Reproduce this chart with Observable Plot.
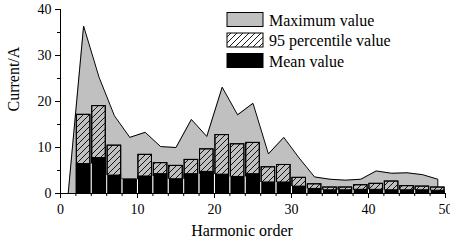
<!DOCTYPE html>
<html>
<head>
<meta charset="utf-8">
<script src="https://cdn.jsdelivr.net/npm/d3@7"></script>
<script src="https://cdn.jsdelivr.net/npm/@observablehq/plot@0.6"></script>
<style>
  html, body { margin: 0; padding: 0; background: #fff; }
  svg { display: block; }
  svg text { font-family: "Liberation Serif", "Times New Roman", serif !important; fill: #000; }
</style>
</head>
<body>
<div id="chart"></div>
<script>
// Harmonic orders of the bars
const harmonics = [3,5,7,9,11,13,15,17,19,21,23,25,27,29,31,33,35,37,39,41,43,45,47,49];
// 95 percentile values
const p95Values = [17.1,19.0,10.4,3.0,8.4,6.6,6.0,7.3,9.6,12.7,10.7,11.0,5.7,6.2,3.4,2.0,1.3,1.3,1.8,2.1,2.6,1.6,1.5,1.3];
// Mean values
const meanValues = [6.4,7.7,3.9,3.0,3.7,4.2,3.1,4.2,4.7,4.1,3.6,4.2,2.4,2.4,1.5,1.0,0.7,0.7,0.8,0.8,0.7,0.7,0.7,0.6];
// Maximum value envelope
const maxOrders = [1,3,5,7,9,11,13,15,17,19,21,23,25,27,29,31,33,35,37,39,41,43,45,47,49,49];
const maxValues = [0,36.4,25.3,16.9,12.2,13.3,10.2,10.0,16.1,12.4,23.1,17.1,19.6,8.6,12.2,7.7,3.6,3.1,2.9,3.1,4.9,4.4,4.5,4.1,3.1,0];
// Axis ticks
const xMajorTicks = [0,10,20,30,40,50];
const xMinorTicks = [2,4,6,8,12,14,16,18,22,24,26,28,32,34,36,38,42,44,46,48];
const yMajorTicks = [0,10,20,30,40];
const yMinorTicks = [5,15,25,35];
// Legend
const legendLabels = ["Maximum value", "95 percentile value", "Mean value"];
const xTitle = "Harmonic order";
const yTitle = "Current/A";

const bars = harmonics.map((h, i) => ({h, p95: p95Values[i], mean: meanValues[i]}));
const maxData = maxOrders.map((h, i) => ({h, v: maxValues[i]}));
// thin white separations between adjacent mean bars
const meanGaps = harmonics.slice(1).map((h, i) => ({x: h - 1, top: Math.min(meanValues[i], meanValues[i + 1])}));
const half = 0.88;

const plot = Plot.plot({
  width: 450,
  height: 243,
  marginLeft: 60,
  marginRight: 5,
  marginTop: 9,
  marginBottom: 50,
  style: {fontFamily: "Liberation Serif", fontSize: "14px", color: "#000", background: "#fff"},
  x: {domain: [0, 50]},
  y: {domain: [0, 40]},
  marks: [
    Plot.areaY(maxData, {x: "h", y: "v", fill: "#c0c0c0", curve: "linear"}),
    Plot.lineY(maxData, {x: "h", y: "v", stroke: "#000", strokeWidth: 1}),
    Plot.rectY(bars, {x1: d => d.h - half, x2: d => d.h + half, y: "p95", fill: "#c0c0c0", stroke: "#000", strokeWidth: 1, className: "hatchbars"}),
    Plot.rectY(bars, {x1: d => d.h - half, x2: d => d.h + half, y: "mean", fill: "#000", stroke: "#000", strokeWidth: 1}),
    Plot.ruleX(meanGaps, {x: "x", y1: 0, y2: "top", stroke: "#fff", strokeWidth: 1}),
    Plot.axisX(xMinorTicks, {tickSize: 3, tickFormat: () => "", strokeWidth: 1, label: null}),
    Plot.axisX(xMajorTicks, {tickSize: 5, tickPadding: 6, strokeWidth: 1, label: null, fontSize: 14}),
    Plot.axisY(yMinorTicks, {tickSize: 3, tickFormat: () => "", strokeWidth: 1, label: null}),
    Plot.axisY(yMajorTicks, {tickSize: 5, tickPadding: 4, strokeWidth: 1, label: null, fontSize: 14}),
    Plot.ruleY([0], {stroke: "#000", strokeWidth: 1}),
    Plot.ruleX([0], {stroke: "#000", strokeWidth: 1}),
    Plot.text([xTitle], {text: d => d, frameAnchor: "bottom", dy: 42, dx: -11, fontSize: 16}),
    Plot.text([yTitle], {text: d => d, frameAnchor: "left", rotate: -90, dx: -47, dy: 10, fontSize: 16})
  ]
});

document.getElementById("chart").appendChild(plot);

const svg = d3.select(plot);
const defs = svg.insert("defs", ":first-child");
const pat = defs.append("pattern")
  .attr("id", "hatch")
  .attr("patternUnits", "userSpaceOnUse")
  .attr("width", 6).attr("height", 6);
pat.append("path")
  .attr("d", "M-1,1 l2,-2 M0,6 l6,-6 M5,7 l2,-2")
  .attr("stroke", "#000").attr("stroke-width", 0.9).attr("fill", "none");
const pat2 = defs.append("pattern")
  .attr("id", "hatchw")
  .attr("patternUnits", "userSpaceOnUse")
  .attr("width", 6).attr("height", 6);
pat2.append("rect").attr("width", 6).attr("height", 6).attr("fill", "#fff");
pat2.append("path")
  .attr("d", "M-1,1 l2,-2 M0,6 l6,-6 M5,7 l2,-2")
  .attr("stroke", "#000").attr("stroke-width", 0.9).attr("fill", "none");

// Overlay hatching on 95 percentile bars (keep gray beneath)
svg.selectAll("g.hatchbars rect").each(function() {
  const clone = this.cloneNode(true);
  d3.select(clone).attr("fill", "url(#hatch)");
  this.parentNode.appendChild(clone);
});

// Legend
const lg = svg.append("g")
  .attr("font-family", "Liberation Serif")
  .attr("font-size", 16)
  .attr("text-anchor", "start");
const fills = ["#c0c0c0", "url(#hatchw)", "#000"];
legendLabels.forEach((t, i) => {
  const y0 = 12.5 + i * 20.5;
  lg.append("rect").attr("x", 227).attr("y", y0).attr("width", 36).attr("height", 14)
    .attr("fill", fills[i]).attr("stroke", "#000").attr("stroke-width", 1);
  lg.append("text").attr("x", 269).attr("y", y0 + 13).attr("fill", "#000")
    .attr("text-anchor", "start").text(t);
});
</script>
</body>
</html>
